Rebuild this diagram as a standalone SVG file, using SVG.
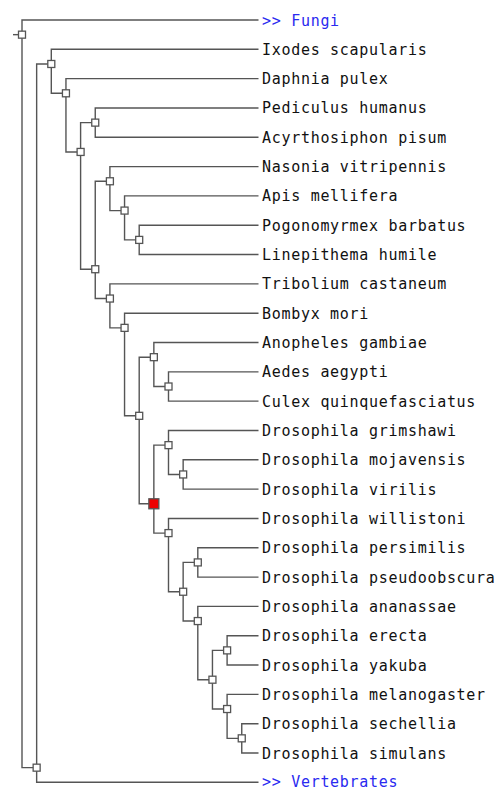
<svg xmlns="http://www.w3.org/2000/svg" width="499" height="790" viewBox="0 0 499 790">
<style>
.c{fill:none;stroke:#555;stroke-width:1.4}
.n{fill:#fff;stroke:#555;stroke-width:1.3}
.red{fill:#ee0000;stroke:#555;stroke-width:1.3}
.t{font-family:"DejaVu Sans Mono","Liberation Mono",monospace;font-size:15px;letter-spacing:0.7px;fill:#111}
.l{fill:#2a2af0}
</style>
<rect width="499" height="790" fill="#fff"/>
<g id="connectors" class="c">
<path d="M13 34.66H22"/>
<path d="M258.5 20H22V767.66H36.65"/>
<path d="M51.3 63.98H36.65V782.32H258.5"/>
<path d="M258.5 49.32H51.3V93.3H65.95"/>
<path d="M258.5 78.64H65.95V151.94H80.6"/>
<path d="M95.25 122.62H80.6V269.22H95.25"/>
<path d="M258.5 107.96H95.25V137.28H258.5"/>
<path d="M109.9 181.26H95.25V298.54H109.9"/>
<path d="M258.5 166.6H109.9V210.58H124.55"/>
<path d="M258.5 195.92H124.55V239.9H139.2"/>
<path d="M258.5 225.24H139.2V254.56H258.5"/>
<path d="M258.5 283.88H109.9V327.86H124.55"/>
<path d="M258.5 313.2H124.55V415.82H139.2"/>
<path d="M153.85 357.18H139.2V503.78H153.85"/>
<path d="M258.5 342.52H153.85V386.5H168.5"/>
<path d="M258.5 371.84H168.5V401.16H258.5"/>
<path d="M168.5 445.14H153.85V533.1H168.5"/>
<path d="M258.5 430.48H168.5V474.46H183.15"/>
<path d="M258.5 459.8H183.15V489.12H258.5"/>
<path d="M258.5 518.44H168.5V591.74H183.15"/>
<path d="M197.8 562.42H183.15V621.06H197.8"/>
<path d="M258.5 547.76H197.8V577.08H258.5"/>
<path d="M258.5 606.4H197.8V679.7H212.45"/>
<path d="M227.1 650.38H212.45V709.02H227.1"/>
<path d="M258.5 635.72H227.1V665.04H258.5"/>
<path d="M258.5 694.36H227.1V738.34H241.75"/>
<path d="M258.5 723.68H241.75V753H258.5"/>
</g>
<g id="n-root"><rect class="n" x="18.5" y="31.16" width="7" height="7"/></g>
<g id="n-A"><rect class="n" x="33.15" y="764.16" width="7" height="7"/></g>
<g id="n-B"><rect class="n" x="47.8" y="60.48" width="7" height="7"/></g>
<g id="n-C"><rect class="n" x="62.45" y="89.8" width="7" height="7"/></g>
<g id="n-D"><rect class="n" x="77.1" y="148.44" width="7" height="7"/></g>
<g id="n-E"><rect class="n" x="91.75" y="119.12" width="7" height="7"/></g>
<g id="n-F"><rect class="n" x="91.75" y="265.72" width="7" height="7"/></g>
<g id="n-G"><rect class="n" x="106.4" y="177.76" width="7" height="7"/></g>
<g id="n-I"><rect class="n" x="121.05" y="207.08" width="7" height="7"/></g>
<g id="n-J"><rect class="n" x="135.7" y="236.4" width="7" height="7"/></g>
<g id="n-H"><rect class="n" x="106.4" y="295.04" width="7" height="7"/></g>
<g id="n-K"><rect class="n" x="121.05" y="324.36" width="7" height="7"/></g>
<g id="n-L"><rect class="n" x="135.7" y="412.32" width="7" height="7"/></g>
<g id="n-M"><rect class="n" x="150.35" y="353.68" width="7" height="7"/></g>
<g id="n-O"><rect class="n" x="165" y="383" width="7" height="7"/></g>
<g id="n-N"><rect class="red" x="148.85" y="498.78" width="10" height="10"/></g>
<g id="n-P"><rect class="n" x="165" y="441.64" width="7" height="7"/></g>
<g id="n-R"><rect class="n" x="179.65" y="470.96" width="7" height="7"/></g>
<g id="n-Q"><rect class="n" x="165" y="529.6" width="7" height="7"/></g>
<g id="n-S"><rect class="n" x="179.65" y="588.24" width="7" height="7"/></g>
<g id="n-T"><rect class="n" x="194.3" y="558.92" width="7" height="7"/></g>
<g id="n-U"><rect class="n" x="194.3" y="617.56" width="7" height="7"/></g>
<g id="n-V"><rect class="n" x="208.95" y="676.2" width="7" height="7"/></g>
<g id="n-W"><rect class="n" x="223.6" y="646.88" width="7" height="7"/></g>
<g id="n-X"><rect class="n" x="223.6" y="705.52" width="7" height="7"/></g>
<g id="n-Y"><rect class="n" x="238.25" y="734.84" width="7" height="7"/></g>
<g id="leaf-fungi"><text class="t l" x="262" y="25.5">&gt;&gt; Fungi</text></g>
<g id="leaf-ixodes"><text class="t" x="262" y="54.82">Ixodes scapularis</text></g>
<g id="leaf-daphnia"><text class="t" x="262" y="84.14">Daphnia pulex</text></g>
<g id="leaf-pediculus"><text class="t" x="262" y="113.46">Pediculus humanus</text></g>
<g id="leaf-acyrthosiphon"><text class="t" x="262" y="142.78">Acyrthosiphon pisum</text></g>
<g id="leaf-nasonia"><text class="t" x="262" y="172.1">Nasonia vitripennis</text></g>
<g id="leaf-apis"><text class="t" x="262" y="201.42">Apis mellifera</text></g>
<g id="leaf-pogonomyrmex"><text class="t" x="262" y="230.74">Pogonomyrmex barbatus</text></g>
<g id="leaf-linepithema"><text class="t" x="262" y="260.06">Linepithema humile</text></g>
<g id="leaf-tribolium"><text class="t" x="262" y="289.38">Tribolium castaneum</text></g>
<g id="leaf-bombyx"><text class="t" x="262" y="318.7">Bombyx mori</text></g>
<g id="leaf-anopheles"><text class="t" x="262" y="348.02">Anopheles gambiae</text></g>
<g id="leaf-aedes"><text class="t" x="262" y="377.34">Aedes aegypti</text></g>
<g id="leaf-culex"><text class="t" x="262" y="406.66">Culex quinquefasciatus</text></g>
<g id="leaf-dgri"><text class="t" x="262" y="435.98">Drosophila grimshawi</text></g>
<g id="leaf-dmoj"><text class="t" x="262" y="465.3">Drosophila mojavensis</text></g>
<g id="leaf-dvir"><text class="t" x="262" y="494.62">Drosophila virilis</text></g>
<g id="leaf-dwil"><text class="t" x="262" y="523.94">Drosophila willistoni</text></g>
<g id="leaf-dper"><text class="t" x="262" y="553.26">Drosophila persimilis</text></g>
<g id="leaf-dpse"><text class="t" x="262" y="582.58">Drosophila pseudoobscura</text></g>
<g id="leaf-dana"><text class="t" x="262" y="611.9">Drosophila ananassae</text></g>
<g id="leaf-dere"><text class="t" x="262" y="641.22">Drosophila erecta</text></g>
<g id="leaf-dyak"><text class="t" x="262" y="670.54">Drosophila yakuba</text></g>
<g id="leaf-dmel"><text class="t" x="262" y="699.86">Drosophila melanogaster</text></g>
<g id="leaf-dsec"><text class="t" x="262" y="729.18">Drosophila sechellia</text></g>
<g id="leaf-dsim"><text class="t" x="262" y="758.5">Drosophila simulans</text></g>
<g id="leaf-vertebrates"><text class="t l" x="262" y="786.6">&gt;&gt; Vertebrates</text></g>
</svg>
